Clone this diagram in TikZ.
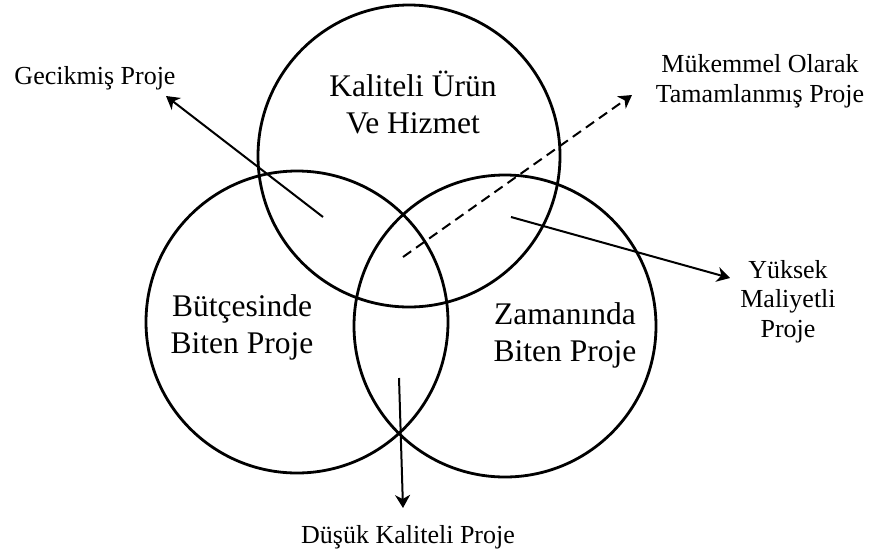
\documentclass[tikz,border=0pt]{standalone}
\usepackage{fontspec}
\setmainfont{Liberation Serif}
\usetikzlibrary{arrows.meta}
\begin{document}
\begin{tikzpicture}[x=1pt,y=-1pt,
  setcircle/.style={draw, circle, line width=2.8pt, minimum size=302pt, inner sep=0pt},
  % multi-line labels: the base anchor sits on the last line
  inlabel/.style={align=center, inner sep=0pt, anchor=base,
    font=\fontsize{31.5}{36.5}\selectfont},
  outlabel/.style={align=center, inner sep=0pt, anchor=base,
    font=\fontsize{26}{29.5}\selectfont},
  pointer/.style={line width=2pt, -{Stealth[length=13pt,width=15pt,inset=4pt]}},
]
\useasboundingbox (0,0) rectangle (875,555);

% the three sets
\node[setcircle] (quality) at (409,156) {};
\node[setcircle] (budget)  at (297,322) {};
\node[setcircle] (time)    at (505,326) {};

% set names
\node[inlabel] (qualityText) at (413,133) {Kaliteli Ürün\\Ve Hizmet};
\node[inlabel] (budgetText)  at (242,353) {Bütçesinde\\Biten Proje};
\node[inlabel] (timeText)    at (565,361) {Zamanında\\Biten Proje};

% outcome labels
\node[outlabel] (late)    at (95,84)   {Gecikmiş Proje};
\node[outlabel] (perfect) at (760,102) {Mükemmel Olarak\\Tamamlanmış Proje};
\node[outlabel] (costly)  at (788,337) {Yüksek\\Maliyetli\\Proje};
\node[outlabel] (lowq)    at (408,543) {Düşük Kaliteli Proje};

% pointer ends
\coordinate (lateFrom)    at (323,217);
\coordinate (lateTo)      at (166,96);
\coordinate (perfectFrom) at (403,257);
\coordinate (perfectTo)   at (632,95);
\coordinate (costlyFrom)  at (511,217);
\coordinate (costlyTo)    at (730,278);
\coordinate (lowqFrom)    at (399,378);
\coordinate (lowqTo)      at (403,508);

\draw[pointer] (lateFrom) -- (lateTo);
\draw[pointer, dash pattern=on 10pt off 6pt] (perfectFrom) -- (perfectTo);
\draw[pointer] (costlyFrom) -- (costlyTo);
\draw[pointer] (lowqFrom) -- (lowqTo);
\end{tikzpicture}
\end{document}
